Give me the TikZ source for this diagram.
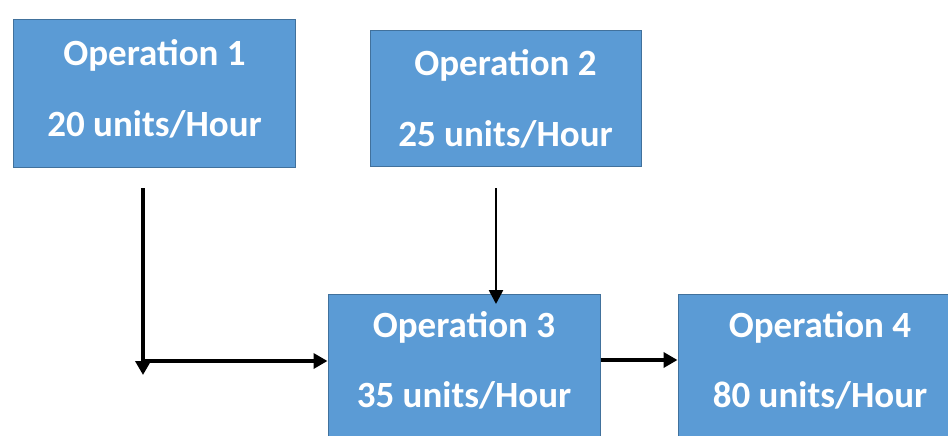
\documentclass[tikz,border=0pt]{standalone}
\usepackage{fontspec}
\setmainfont{Carlito}
\usetikzlibrary{arrows.meta}
\definecolor{opfill}{HTML}{5B9BD5}
\definecolor{opline}{HTML}{41719C}
\tikzset{
  opbox/.style={draw=opline, line width=1pt, fill=opfill, inner sep=0pt},
  optext/.style={anchor=base, text=white, inner sep=0pt,
    font=\fontsize{37}{40}\selectfont\bfseries},
  flow/.style={line width=4pt, -{Triangle[length=14pt,width=15pt]}},
  thinflow/.style={line width=2.6pt, -{Triangle[length=14pt,width=14pt]}}
}
\begin{document}
\begin{tikzpicture}[x=1pt,y=-1pt]
  \useasboundingbox (0,0) rectangle (948,436);
  \clip (0,0) rectangle (948,436);
  \fill[white] (0,0) rectangle (948,436);

  % operation boxes
  \node[opbox, minimum width=282pt, minimum height=147pt] (op1) at (154.5,93.5) {};
  \node[opbox, minimum width=271pt, minimum height=135pt] (op2) at (505.5,98.5) {};
  \node[opbox, minimum width=272pt, minimum height=150pt] (op3) at (464,369) {};
  \node[opbox, minimum width=284pt, minimum height=150pt] (op4) at (820,369) {};

  % box labels
  \node[optext] (op1a) at (154.5,66) {Operation 1};
  \node[optext] (op1b) at (154.5,136) {20 units/Hour};
  \node[optext] (op2a) at (505.5,76) {Operation 2};
  \node[optext] (op2b) at (505.5,146) {25 units/Hour};
  \node[optext] (op3a) at (464,337) {Operation 3};
  \node[optext] (op3b) at (464,407) {35 units/Hour};
  \node[optext] (op4a) at (820,337) {Operation 4};
  \node[optext] (op4b) at (820,407) {80 units/Hour};

  % connector end points
  \coordinate (d1) at (143,188);
  \coordinate (d1end) at (143,375);
  \coordinate (h1) at (141,361);
  \coordinate (d2) at (496,188);
  \coordinate (d2end) at (496,304);

  % connectors
  \draw[flow] (d1) -- (d1end);
  \draw[flow] (h1) -- (h1 -| op3.west);
  \draw[thinflow] (d2) -- (d2end);
  \draw[flow] (op3.east |- 0,360) -- (op4.west |- 0,360);
\end{tikzpicture}
\end{document}
